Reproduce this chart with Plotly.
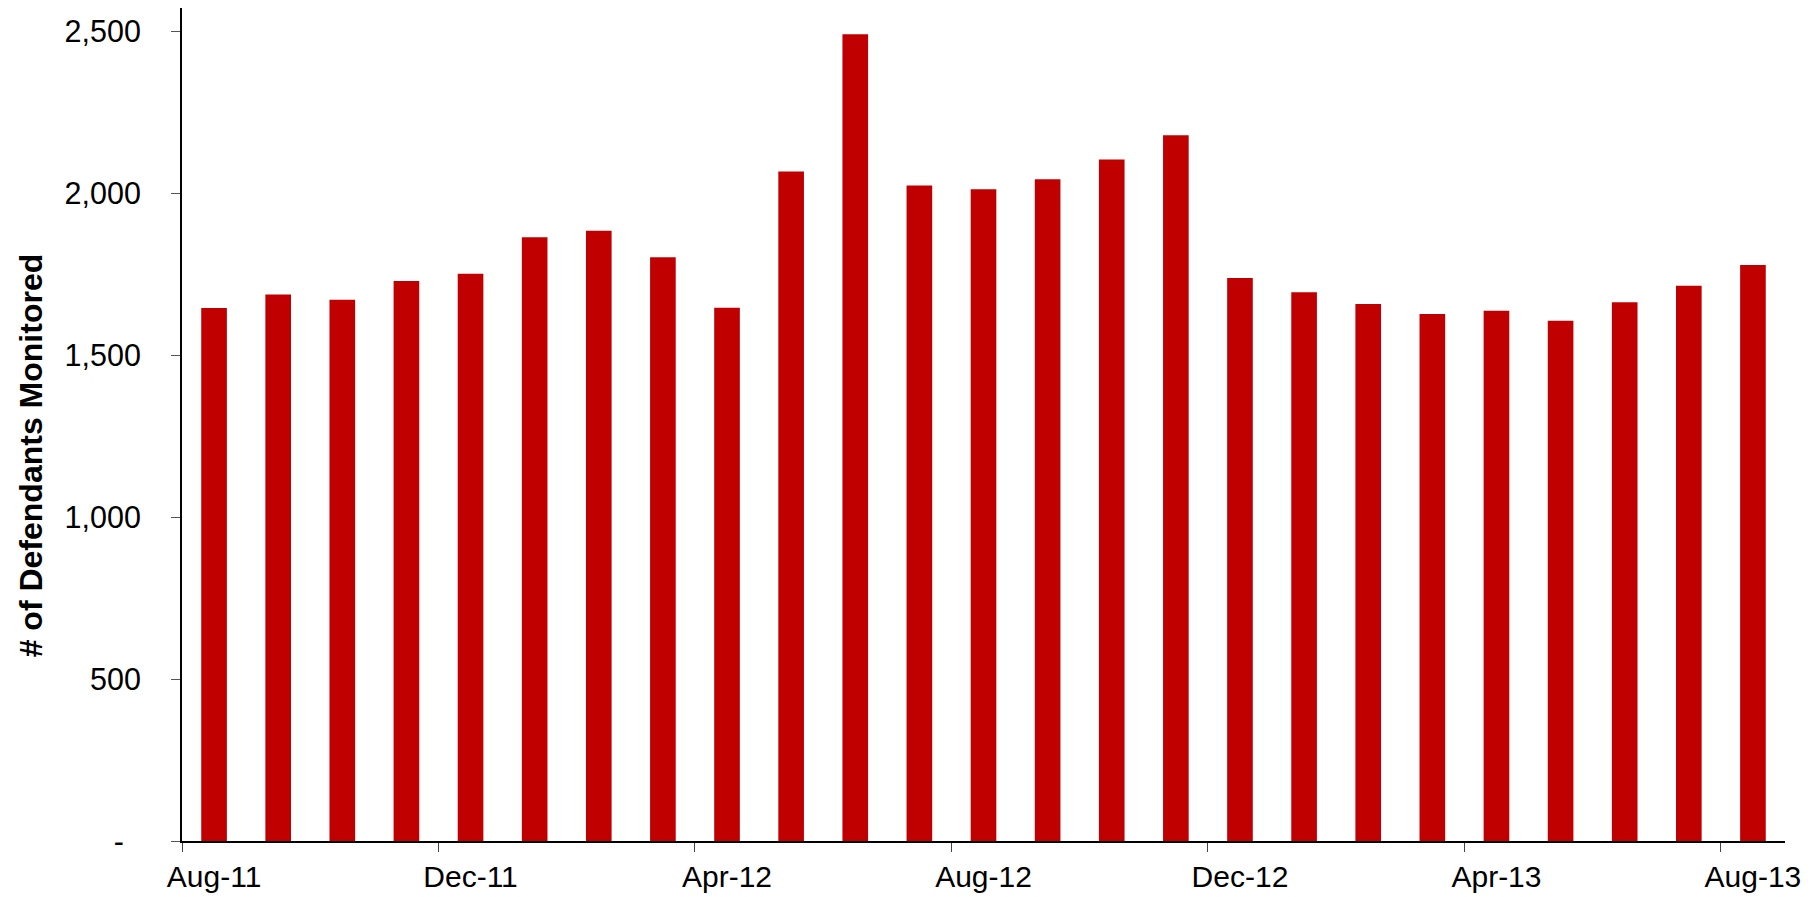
import plotly.graph_objects as go

months = ["Aug-11", "Sep-11", "Oct-11", "Nov-11", "Dec-11", "Jan-12", "Feb-12", "Mar-12",
          "Apr-12", "May-12", "Jun-12", "Jul-12", "Aug-12", "Sep-12", "Oct-12", "Nov-12",
          "Dec-12", "Jan-13", "Feb-13", "Mar-13", "Apr-13", "May-13", "Jun-13", "Jul-13",
          "Aug-13"]
defendants = [1646, 1688, 1672, 1730, 1752, 1865, 1885, 1803, 1647, 2068, 2492, 2025,
              2013, 2044, 2105, 2180, 1739, 1695, 1659, 1628, 1638, 1607, 1664, 1715, 1779]
y_ticks = [0, 500, 1000, 1500, 2000, 2500]
# accounting-style zero: dash with trailing padding
y_labels = ["-\u00a0\u00a0", "500", "1,000", "1,500", "2,000", "2,500"]

pos = list(range(len(months)))
label_pos = pos[::4]

fig = go.Figure()
fig.add_trace(go.Bar(x=pos, y=defendants, marker_color="#C00000", marker_line_width=0))

# page body adds an 8px offset, so the figure is sized 8px smaller
fig.update_layout(
    width=1810, height=889,
    margin=dict(l=174, r=33, t=0, b=56),
    plot_bgcolor="white", paper_bgcolor="white",
    bargap=0.6, showlegend=False,
    font=dict(family="Liberation Sans, Arial, sans-serif", color="black"),
)
fig.update_xaxes(
    range=[-0.5, len(months) - 0.5],
    tickmode="array", tickvals=label_pos, ticktext=[months[i] for i in label_pos],
    ticks="outside", ticklen=0, tickfont=dict(size=30), ticklabelstandoff=8,
    showline=True, linecolor="black", linewidth=2, showgrid=False, zeroline=False,
    minor=dict(tickmode="array", tickvals=[i - 0.5 for i in label_pos],
               ticks="outside", ticklen=9, tickcolor="#444", showgrid=False),
)
fig.update_yaxes(
    range=[0, 2573],
    tickmode="array", tickvals=y_ticks, ticktext=y_labels,
    ticks="outside", ticklen=9, tickcolor="#555", tickfont=dict(size=30.5),
    ticklabelstandoff=24,
    showline=True, linecolor="black", linewidth=2, showgrid=False, zeroline=False,
)

# y title sits a bit below the middle of the axis, as in the original
fig.add_annotation(
    text="<b># of Defendants Monitored</b>", textangle=-90,
    xref="paper", yref="paper", x=0, y=0.463, xanchor="center", yanchor="middle",
    xshift=-151, showarrow=False, font=dict(size=32),
)

fig.write_html("out.html")
